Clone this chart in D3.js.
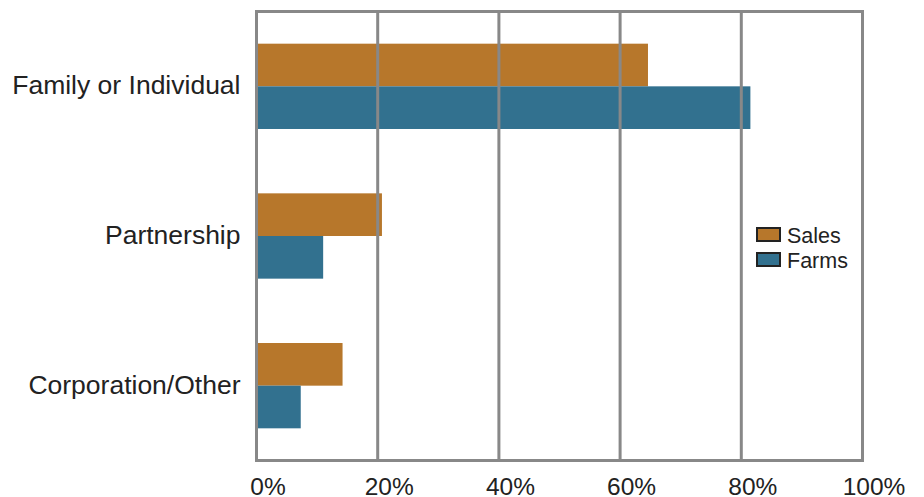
<!DOCTYPE html>
<html>
<head>
<meta charset="utf-8">
<script src="https://cdn.jsdelivr.net/npm/d3@7"></script>
<style>
  body { margin: 0; background: #fff; }
  svg text { font-family: "Liberation Sans", Arial, sans-serif; fill: #222; }
</style>
</head>
<body>
<div id="chart"></div>
<script>
const categories = ["Family or Individual", "Partnership", "Corporation/Other"];
const seriesNames = ["Sales", "Farms"];
const salesValues = [64.6, 20.7, 14.2];
const farmsValues = [81.5, 11.0, 7.3];
const xTicks = [0, 20, 40, 60, 80, 100];

const colors = { Sales: "#b7772b", Farms: "#32718f" };

const width = 924;
const height = 497;
const margin = { top: 11.5, left: 256.5, bottom: 36.5, right: 61.5 };
const iwidth = width - margin.left - margin.right;
const iheight = height - margin.top - margin.bottom;

const svg = d3.select("#chart").append("svg")
  .attr("width", width)
  .attr("height", height);

const g = svg.append("g")
  .attr("transform", `translate(${margin.left},${margin.top})`);

const x = d3.scaleLinear().domain([0, 100]).range([0, iwidth]);
const y = d3.scaleBand().domain(categories).range([0, iheight])
  .paddingInner(0.43).paddingOuter(0.215);
const ySub = d3.scaleBand().domain(seriesNames).range([0, y.bandwidth()]);

const rows = categories.map((c, i) => ({
  name: c,
  values: [
    { key: "Sales", value: salesValues[i] },
    { key: "Farms", value: farmsValues[i] }
  ]
}));

// bars
g.selectAll("g.cat")
  .data(rows)
  .enter()
  .append("g")
  .attr("class", "cat")
  .attr("transform", (d) => `translate(0,${y(d.name)})`)
  .selectAll("rect")
  .data((d) => d.values)
  .enter()
  .append("rect")
  .attr("x", 0)
  .attr("y", (d) => ySub(d.key))
  .attr("width", (d) => x(d.value))
  .attr("height", ySub.bandwidth())
  .style("fill", (d) => colors[d.key]);

// grid lines and frame
g.selectAll("line.grid")
  .data(xTicks)
  .enter()
  .append("line")
  .attr("class", "grid")
  .attr("x1", (d) => x(d))
  .attr("x2", (d) => x(d))
  .attr("y1", 0)
  .attr("y2", iheight)
  .style("stroke", "#888")
  .style("stroke-width", 3);

g.append("rect")
  .attr("width", iwidth)
  .attr("height", iheight)
  .style("fill", "none")
  .style("stroke", "#888")
  .style("stroke-width", 3);

// x axis labels (sit a little right of their grid line, like the original)
const xAxis = g.append("g")
  .attr("transform", `translate(11,${iheight})`)
  .call(d3.axisBottom(x).tickValues(xTicks).tickSize(0).tickPadding(0)
    .tickFormat((d) => d + "%"));
xAxis.select(".domain").remove();
xAxis.selectAll("text")
  .style("font-size", "24.5px")
  .attr("y", 34)
  .attr("dy", 0)
  .attr("fill", "#222");

// y axis labels
const yAxis = g.append("g")
  .call(d3.axisLeft(y).tickSize(0).tickPadding(16));
yAxis.select(".domain").remove();
yAxis.selectAll("text")
  .style("font-size", "26.5px")
  .attr("dy", "0.3em")
  .attr("fill", "#222");

// legend
const legend = svg.append("g").attr("transform", "translate(757,228)");
seriesNames.forEach((s, i) => {
  const row = legend.append("g").attr("transform", `translate(0,${i * 25})`);
  row.append("rect")
    .attr("width", 23)
    .attr("height", 13)
    .style("fill", colors[s])
    .style("stroke", "#222")
    .style("stroke-width", 2);
  row.append("text")
    .attr("x", 30)
    .attr("y", 15)
    .style("font-size", "21.5px")
    .text(s);
});
</script>
</body>
</html>
